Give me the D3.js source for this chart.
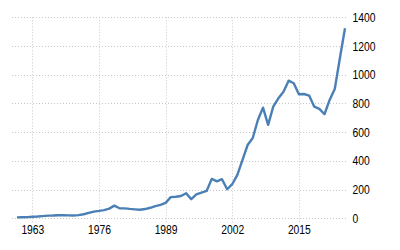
<!DOCTYPE html>
<html>
<head>
<meta charset="utf-8">
<script src="https://cdn.jsdelivr.net/npm/d3@7"></script>
<style>
body { margin: 0; background: #fff; }
svg text { font-family: "Liberation Sans", Arial, sans-serif; font-size: 12.5px; fill: #000; }
</style>
</head>
<body>
<svg id="chart" width="400" height="250"></svg>
<script>
var years = d3.range(1960, 2025);
var values = [7, 8, 9, 11, 13, 16, 19, 20, 22, 22,
    21, 20, 23, 29, 38, 47, 52, 58, 68, 89,
    71, 70, 66, 63, 60, 65, 74, 86, 94, 108,
    148, 151, 156, 175, 134, 168, 180, 191, 275, 258,
    273, 203, 238, 303, 407, 511, 560, 685, 771, 651,
    778, 836, 882, 959, 941, 864, 866, 855, 778, 762,
    725, 825, 901, 1115, 1324];
var xTicks = [1963, 1976, 1989, 2002, 2015];
var yTicks = [0, 200, 400, 600, 800, 1000, 1200, 1400];

var svg = d3.select("#chart");

var x = d3.scaleLinear().domain([1960, 2024]).range([17, 345]);
var y = d3.scaleLinear().domain([0, 1400]).range([218.4, 17.3]);

// grid
var grid = svg.append("g")
    .attr("stroke", "#c8c8c8")
    .attr("stroke-width", 1)
    .attr("stroke-dasharray", "1,2");

grid.selectAll("line.h")
    .data(yTicks)
    .enter().append("line")
    .attr("class", "h")
    .attr("x1", 12)
    .attr("x2", 347)
    .attr("y1", function(d){ return Math.round(y(d)) + 0.5; })
    .attr("y2", function(d){ return Math.round(y(d)) + 0.5; })

grid.selectAll("line.v")
    .data(xTicks)
    .enter().append("line")
    .attr("class", "v")
    .attr("x1", function(d){ return Math.round(x(d)) + 0.5; })
    .attr("x2", function(d){ return Math.round(x(d)) + 0.5; })
    .attr("y1", y(1400))
    .attr("y2", 224)

// axes (labels only)
var xAxis = d3.axisBottom(x).tickValues(xTicks).tickFormat(d3.format("d")).tickSize(0).tickPadding(0);
svg.append("g")
    .attr("transform", "translate(0,225)")
    .call(xAxis)
    .call(function(g){ g.select(".domain").remove(); })
    .selectAll("text")
    .attr("dy", "0.71em")
    .attr("y", 0);

var yAxis = d3.axisRight(y).tickValues(yTicks).tickFormat(d3.format("d")).tickSize(0).tickPadding(0);
svg.append("g")
    .attr("transform", "translate(352.5,0)")
    .call(yAxis)
    .call(function(g){ g.select(".domain").remove(); })
    .selectAll("text")
    .attr("text-anchor", "start");

// narrower digits like the original font
svg.selectAll(".tick text")
    .attr("font-family", null)
    .attr("font-size", null)
    .attr("lengthAdjust", "spacingAndGlyphs")
    .attr("textLength", function(d){ return String(d).length * 5.75; });

// line
var line = d3.line()
    .x(function(d, i){ return x(years[i]); })
    .y(function(d){ return y(d); });

svg.append("path")
    .datum(values)
    .attr("fill", "none")
    .attr("stroke", "#4a80b6")
    .attr("stroke-width", 2.4)
    .attr("stroke-linejoin", "round")
    .attr("d", line)
</script>
</body>
</html>
